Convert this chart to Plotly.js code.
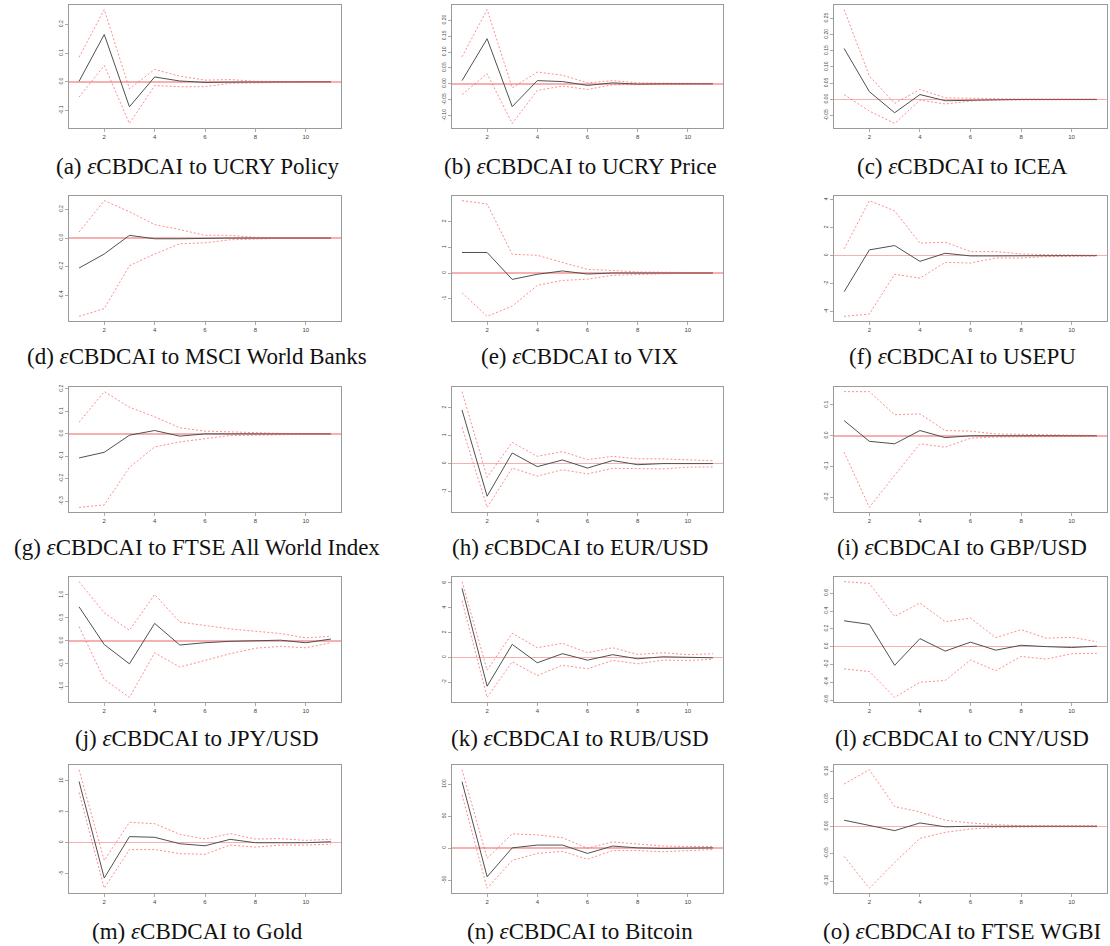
<!DOCTYPE html>
<html>
<head>
<meta charset="utf-8">
<script src="https://cdn.plot.ly/plotly-3.0.1.min.js"></script>
<style>html,body{margin:0;padding:0;background:#fff;}#chart{width:1110px;height:946px;}</style>
</head>
<body>
<div id="chart"></div>
<script>
// Horizons
const horizons = [1, 2, 3, 4, 5, 6, 7, 8, 9, 10, 11];
const xTickLabels = ["2", "4", "6", "8", "10"];

// Response names
const responseNames = ["UCRY Policy", "UCRY Price", "ICEA", "MSCI World Banks", "VIX", "USEPU",
  "FTSE All World Index", "EUR/USD", "GBP/USD", "JPY/USD", "RUB/USD", "CNY/USD",
  "Gold", "Bitcoin", "FTSE WGBI"];
const panelLetters = ["a","b","c","d","e","f","g","h","i","j","k","l","m","n","o"];

// (a) UCRY Policy
const irf_a = [0.002, 0.165, -0.087, 0.017, 0.003, -0.002, -0.001, 0, 0, 0, 0];
const up_a  = [0.086, 0.252, -0.024, 0.043, 0.020, 0.006, 0.008, 0.002, 0.001, 0.001, 0.001];
const lo_a  = [-0.053, 0.057, -0.145, -0.013, -0.017, -0.017, -0.005, -0.003, -0.002, -0.001, -0.001];
const yt_a  = ["-0.1", "0.0", "0.1", "0.2"];
// (b) UCRY Price
const irf_b = [0.010, 0.142, -0.072, 0.010, 0.007, -0.005, 0.003, -0.001, 0, 0, 0];
const up_b  = [0.085, 0.234, -0.013, 0.037, 0.027, 0.003, 0.010, 0.003, 0.002, 0.001, 0.001];
const lo_b  = [-0.034, 0.032, -0.125, -0.021, -0.007, -0.018, -0.003, -0.003, -0.002, -0.001, -0.001];
const yt_b  = ["-0.10", "-0.05", "0.00", "0.05", "0.10", "0.15", "0.20"];
// (c) ICEA
const irf_c = [0.157, 0.024, -0.041, 0.015, -0.004, -0.002, 0, 0, 0, 0, 0];
const up_c  = [0.277, 0.072, -0.012, 0.031, 0.005, 0.003, 0.002, 0.001, 0.001, 0.001, 0.001];
const lo_c  = [0.015, -0.036, -0.074, -0.002, -0.014, -0.005, -0.002, -0.001, -0.001, -0.001, -0.001];
const yt_c  = ["-0.05", "0.00", "0.05", "0.10", "0.15", "0.20", "0.25"];
// (d) MSCI World Banks
const irf_d = [-0.209, -0.111, 0.019, -0.005, -0.005, 0, 0, 0, 0, 0, 0];
const up_d  = [0.042, 0.261, 0.184, 0.094, 0.059, 0.019, 0.019, 0.005, 0.002, 0.001, 0.001];
const lo_d  = [-0.546, -0.492, -0.193, -0.111, -0.040, -0.033, -0.012, -0.005, -0.002, -0.001, -0.001];
const yt_d  = ["-0.4", "-0.2", "0.0", "0.2"];
// (e) VIX
const irf_e = [0.80, 0.80, -0.25, -0.05, 0.08, -0.04, 0, 0, 0, 0, 0];
const up_e  = [2.82, 2.69, 0.73, 0.69, 0.41, 0.14, 0.10, 0.04, 0.03, 0.01, 0.01];
const lo_e  = [-0.77, -1.69, -1.29, -0.48, -0.29, -0.24, -0.09, -0.05, -0.03, -0.01, -0.01];
const yt_e  = ["-1", "0", "1", "2"];
// (f) USEPU
const irf_f = [-2.58, 0.41, 0.72, -0.41, 0.17, -0.02, -0.02, 0, 0, 0, 0];
const up_f  = [0.48, 3.93, 3.20, 0.89, 0.96, 0.29, 0.29, 0.12, 0.07, 0.05, 0.03];
const lo_f  = [-4.34, -4.17, -1.33, -1.61, -0.48, -0.53, -0.17, -0.17, -0.07, -0.05, -0.03];
const yt_f  = ["-4", "-2", "0", "2", "4"];
// (g) FTSE All World Index
const irf_g = [-0.107, -0.082, -0.006, 0.015, -0.010, 0, 0, 0, 0, 0, 0];
const up_g  = [0.052, 0.188, 0.119, 0.076, 0.027, 0.012, 0.009, 0.004, 0.002, 0.001, 0.001];
const lo_g  = [-0.327, -0.316, -0.149, -0.058, -0.036, -0.021, -0.007, -0.006, -0.003, -0.002, -0.001];
const yt_g  = ["-0.3", "-0.2", "-0.1", "0.0", "0.1", "0.2"];
// (h) EUR/USD
const irf_h = [1.92, -1.17, 0.38, -0.11, 0.13, -0.16, 0.11, -0.04, 0, 0, 0];
const up_h  = [2.58, -0.49, 0.76, 0.26, 0.43, 0.14, 0.26, 0.17, 0.17, 0.14, 0.10];
const lo_h  = [1.30, -1.57, -0.16, -0.45, -0.22, -0.37, -0.17, -0.19, -0.19, -0.13, -0.12];
const yt_h  = ["-1", "0", "1", "2"];
// (i) GBP/USD
const irf_i = [0.049, -0.018, -0.026, 0.017, -0.006, 0, 0, 0, 0, 0, 0];
const up_i  = [0.143, 0.143, 0.068, 0.071, 0.017, 0.015, 0.006, 0.004, 0.003, 0.002, 0.001];
const lo_i  = [-0.053, -0.232, -0.128, -0.026, -0.037, -0.008, -0.004, -0.003, -0.002, -0.001, -0.001];
const yt_i  = ["-0.2", "-0.1", "0.0", "0.1"];
// (j) JPY/USD
const irf_j = [0.74, -0.08, -0.50, 0.38, -0.09, -0.04, -0.01, 0.01, 0.015, -0.04, 0.04];
const up_j  = [1.29, 0.61, 0.23, 1.01, 0.41, 0.34, 0.26, 0.21, 0.16, 0.065, 0.10];
const lo_j  = [0.31, -0.84, -1.23, -0.26, -0.57, -0.42, -0.28, -0.16, -0.12, -0.15, -0.04];
const yt_j  = ["-1.0", "-0.5", "0.0", "0.5", "1.0"];
// (k) RUB/USD
const irf_k = [5.57, -2.32, 1.05, -0.43, 0.30, -0.22, 0.22, -0.11, 0.05, 0.03, -0.03];
const up_k  = [6.11, -1.03, 1.95, 0.78, 1.14, 0.38, 0.78, 0.24, 0.38, 0.22, 0.30];
const lo_k  = [4.57, -3.22, -0.35, -1.46, -0.62, -0.92, -0.24, -0.51, -0.22, -0.24, -0.16];
const yt_k  = ["-2", "0", "2", "4", "6"];
// (l) CNY/USD
const irf_l = [0.29, 0.25, -0.21, 0.09, -0.05, 0.05, -0.04, 0.015, 0, -0.01, 0.005];
const up_l  = [0.73, 0.71, 0.34, 0.49, 0.28, 0.32, 0.10, 0.19, 0.095, 0.105, 0.055];
const lo_l  = [-0.25, -0.28, -0.57, -0.40, -0.38, -0.15, -0.27, -0.11, -0.14, -0.08, -0.075];
const yt_l  = ["-0.6", "-0.4", "-0.2", "0.0", "0.2", "0.4", "0.6"];
// (m) Gold
const irf_m = [9.9, -5.71, 0.99, 0.88, -0.16, -0.49, 0.55, 0, 0, 0, 0.16];
const up_m  = [11.8, -2.86, 3.30, 3.08, 1.37, 0.60, 1.48, 0.60, 0.66, 0.38, 0.55];
const lo_m  = [8.13, -7.36, -1.10, -1.10, -1.76, -1.87, -0.38, -0.71, -0.38, -0.38, -0.22];
const yt_m  = ["-5", "0", "5", "10"];
// (n) Bitcoin
const irf_n = [104, -44.7, 0.5, 4.9, 4.9, -8.2, 3.3, 0.5, -0.5, 0, 0.5];
const up_n  = [122.7, -15.8, 22.4, 20.7, 16.4, 0, 9.8, 6.0, 3.3, 2.7, 2.7];
const lo_n  = [83.4, -62.7, -19.1, -8.2, -4.9, -17.4, -3.8, -3.8, -5.5, -3.3, -2.2];
const yt_n  = ["-50", "0", "50", "100"];
// (o) FTSE WGBI
const irf_o = [0.011, 0.001, -0.008, 0.006, -0.001, 0, 0, 0, 0, 0, 0];
const up_o  = [0.077, 0.103, 0.036, 0.026, 0.011, 0.006, 0.003, 0.001, 0.001, 0.001, 0.001];
const lo_o  = [-0.055, -0.113, -0.066, -0.022, -0.011, -0.005, -0.002, -0.001, -0.001, -0.001, -0.001];
const yt_o  = ["-0.10", "-0.05", "0.00", "0.05", "0.10"];

const irfs = [irf_a, irf_b, irf_c, irf_d, irf_e, irf_f, irf_g, irf_h, irf_i, irf_j, irf_k, irf_l, irf_m, irf_n, irf_o];
const ups  = [up_a, up_b, up_c, up_d, up_e, up_f, up_g, up_h, up_i, up_j, up_k, up_l, up_m, up_n, up_o];
const los  = [lo_a, lo_b, lo_c, lo_d, lo_e, lo_f, lo_g, lo_h, lo_i, lo_j, lo_k, lo_l, lo_m, lo_n, lo_o];
const yts  = [yt_a, yt_b, yt_c, yt_d, yt_e, yt_f, yt_g, yt_h, yt_i, yt_j, yt_k, yt_l, yt_m, yt_n, yt_o];

// ---- layout geometry (pixels) ----
const W = 1110, H = 946;
const colLeft = [69, 452, 834], colRight = [341, 723, 1107];
const rowTop = [5, 196, 387, 577, 765], rowBottom = [128, 321, 512, 702, 893];
const capX = [197, 580, 962], capY = [166, 356, 547, 738, 931];

const xTickFont = {family: "Liberation Sans, Arial, sans-serif", size: 6, color: "#444"};
const yTickFont = {family: "Liberation Sans, Arial, sans-serif", size: 5, color: "#444"};
const data = [];
const layout = {
  width: W, height: H,
  margin: {l: 0, r: 0, t: 0, b: 0},
  paper_bgcolor: "#fff", plot_bgcolor: "#fff",
  showlegend: false,
  annotations: []
};

function rRange(arrs) {
  let mn = Infinity, mx = -Infinity;
  arrs.forEach(a => a.forEach(v => { if (v < mn) mn = v; if (v > mx) mx = v; }));
  const pad = 0.04 * (mx - mn);
  return [mn - pad, mx + pad];
}

for (let i = 0; i < 15; i++) {
  const r = Math.floor(i / 3), c = i % 3;
  const sfx = i === 0 ? "" : String(i + 1);
  const xa = "x" + sfx, ya = "y" + sfx;
  const common = {xaxis: xa, yaxis: ya, x: horizons, mode: "lines", hoverinfo: "skip"};
  data.push(Object.assign({}, common, {y: irfs[i], line: {color: "#505050", width: 1}}));
  data.push(Object.assign({}, common, {y: ups[i], line: {color: "rgba(255,70,70,0.62)", width: 1, dash: "2px,2px"}}));
  data.push(Object.assign({}, common, {y: los[i], line: {color: "rgba(255,70,70,0.62)", width: 1, dash: "2px,2px"}}));

  layout["xaxis" + sfx] = {
    domain: [colLeft[c] / W, colRight[c] / W],
    anchor: ya, range: [0.6, 11.4],
    tickvals: xTickLabels.map(Number), ticktext: xTickLabels,
    ticks: "outside", ticklen: 3, tickwidth: 1, tickcolor: "#aaa",
    showline: true, mirror: true, linecolor: "#9a9a9a", linewidth: 1,
    showgrid: false, zeroline: false, tickfont: xTickFont
  };
  layout["yaxis" + sfx] = {
    domain: [1 - rowBottom[r] / H, 1 - rowTop[r] / H],
    anchor: xa, range: rRange([irfs[i], ups[i], los[i]]),
    tickvals: yts[i].map(Number), ticktext: yts[i], tickangle: -90,
    ticks: "outside", ticklen: 3, tickwidth: 1, tickcolor: "#aaa",
    showline: true, mirror: true, linecolor: "#9a9a9a", linewidth: 1,
    showgrid: false, zeroline: true, zerolinecolor: "#f7b0b0", zerolinewidth: 1.5,
    tickfont: yTickFont
  };
  layout.annotations.push({
    xref: "paper", yref: "paper",
    x: capX[c] / W, y: 1 - capY[r] / H,
    xanchor: "center", yanchor: "middle", showarrow: false,
    text: "(" + panelLetters[i] + ") <i>ε</i>CBDCAI to " + responseNames[i],
    font: {family: "Liberation Serif, serif", size: 23, color: "#111"}
  });
}

Plotly.newPlot("chart", data, layout, {staticPlot: true, displayModeBar: false});
</script>
</body>
</html>
